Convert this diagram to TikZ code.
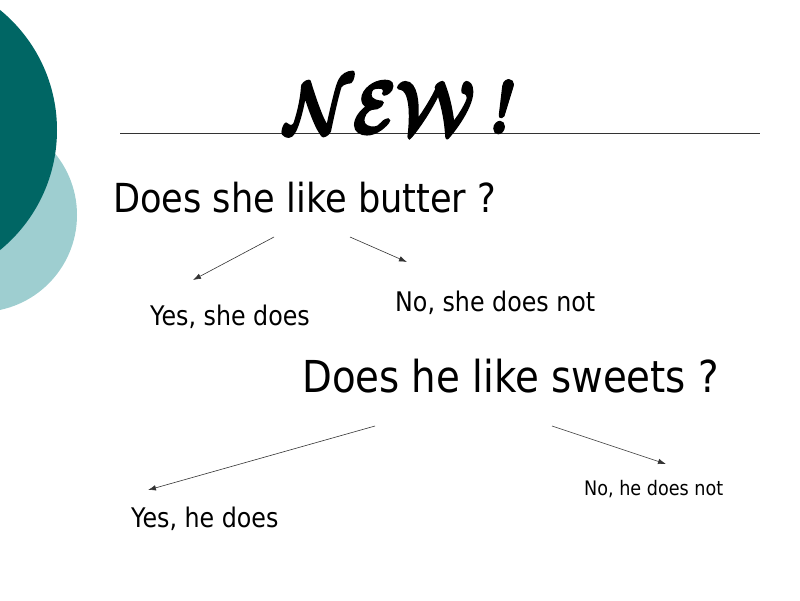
\documentclass[tikz,border=0pt]{standalone}
\usepackage{fontspec}
\usepackage{graphicx}
\usepackage{tikz}
\usetikzlibrary{calc,arrows.meta}
\newfontfamily\slidefont[FakeStretch=0.88]{DejaVu Sans}
\definecolor{darkteal}{RGB}{0,102,100}
\definecolor{lightteal}{RGB}{158,206,208}
\newcommand{\heavyon}{\special{pdf:literal direct 2 Tr 0.35 w}}
\newcommand{\heavyoff}{\special{pdf:literal direct 0 Tr}}
\newcommand{\newmark}{\scalebox{6.3}[7.4]{\heavyon\boldmath$\mathcal{NEW}$\,{\bfseries\itshape !}\heavyoff}}
\tikzset{
  txt/.style={anchor=base west, inner sep=0pt, font=\slidefont},
  arr/.style={-{Latex[length=8pt,width=5.5pt]}, line width=0.6pt, black!80}
}

\begin{document}
\begin{tikzpicture}[x=1pt, y=-1pt]
			%%%%% START %%%%%
			\useasboundingbox (0, 0) rectangle (800, 600);
			\clip (0, 0) rectangle (800, 600);
			
			\fill[lightteal] (-20, 215) circle (97);
			\fill[darkteal] (-98, 130) circle (155);
			
			\draw[line width=0.8pt, black!80] (120, 133) -- (760, 133);
			\node[anchor=base west, inner sep=0pt] (title) at (284, 133) {\newmark};
			
			\node[txt, font={\slidefont\fontsize{40}{44}\selectfont}] (q1) at (113, 212) {Does she like butter ?};
			\node[txt, font={\slidefont\fontsize{27}{30}\selectfont}] (a1) at (150, 325) {Yes, she does};
			\node[txt, font={\slidefont\fontsize{27}{30}\selectfont}] (b1) at (395, 311) {No, she does not};
			
			\node[txt, font={\slidefont\fontsize{44}{48}\selectfont}] (q2) at (302, 392) {Does he like sweets ?};
			\node[txt, font={\slidefont\fontsize{27}{30}\selectfont}] (a2) at (131, 527) {Yes, he does};
			\node[txt, font={\slidefont\fontsize{20}{24}\selectfont}] (b2) at (584, 495) {No, he does not};
			
			\coordinate (q1l) at (274, 237);
			\coordinate (q1r) at (350, 237);
			\coordinate (a1t) at (193, 280);
			\coordinate (b1t) at (407, 262);
			\draw[arr] (q1l) -- (a1t);
			\draw[arr] (q1r) -- (b1t);
			
			\coordinate (q2l) at (375, 426);
			\coordinate (q2r) at (552, 426);
			\coordinate (a2t) at (148, 490);
			\coordinate (b2t) at (666, 464);
			\draw[arr] (q2l) -- (a2t);
			\draw[arr] (q2r) -- (b2t);
			
			%%%%% END %%%%%
		\end{tikzpicture}
\end{document}
